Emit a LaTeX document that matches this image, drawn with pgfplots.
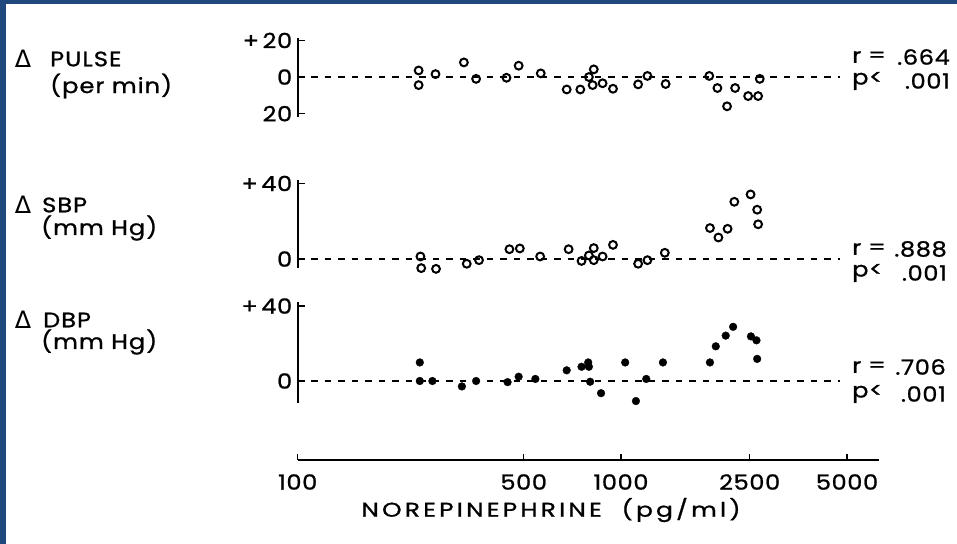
\documentclass[border=0pt]{standalone}
\usepackage{pgfplots}
\pgfplotsset{compat=1.18}
\usepackage{fontspec}
\setmainfont{Poppins}
\newfontfamily\symfont{DejaVu Sans}
\definecolor{frameblue}{RGB}{31,73,125}
\newcommand{\lblfont}{\fontsize{21}{24}\selectfont\addfontfeatures{FakeStretch=1.15,LetterSpace=5,FakeBold=1}}
\newcommand{\tkfont}{\fontsize{21}{24}\selectfont\addfontfeatures{FakeStretch=1.15,LetterSpace=3,FakeBold=1}}

\pgfplotsset{
  panel/.style={
    scale only axis, width=581.3bp,
    xmin=100, xmax=6281,
    axis x line=none, axis y line*=left,
    xtick=\empty, xminorticks=false, yminorticks=false,
    axis line style={-, line width=2.2bp},
    tick align=inside, major tick length=7bp,
    major tick style={line width=1.5bp, black},
    /pgf/number format/assume math mode=true,
    tick label style={font=\tkfont},
    yticklabel style={xshift=-2bp},
    anchor=south west, clip=false
  },
  zero/.style={black, line width=1.4bp, dash pattern=on 6.5bp off 7bp},
  openm/.style={only marks, mark=o, mark size=3.9bp, mark options={line width=2bp, black}},
  fillm/.style={only marks, mark=*, mark size=3.9bp, mark options={black, fill=black, line width=0.3bp}},
}

\begin{document}
\begin{tikzpicture}
\begin{scope}[x=1bp,y=1bp]
\fill[white] (0,0) rectangle (957,544);
\fill[frameblue] (0,0) rectangle (6,544);
\fill[frameblue] (0,540) rectangle (957,544);
\useasboundingbox (0,0) rectangle (957,544);
\end{scope}

% ---------- Delta PULSE ----------
\begin{semilogxaxis}[panel, at={(297.7bp,426.7bp)}, ymin=-22, ymax=21.3, height=79.2bp,
  ytick={-20,0,20}, yticklabels={20,0,{+\,20}}]
\addplot[zero] coordinates {(100,0) (4755,0)};
\addplot[openm] coordinates {
(236.6,3.6) (236.6,-4.4) (266.8,1.6) (326.6,8.0) (356.3,-1.0)
(442.4,-0.4) (482.4,6.2) (564.6,2.0) (679.2,-6.8) (748.5,-6.8)
(795.6,0) (823.6,4.2) (817.0,-4.4) (877.0,-3.4) (944.4,-6.4)
(1129.5,-4.0) (1207,0.6) (1374,-3.8) (1875,0.6) (1987,-6.0)
(2254,-6.0) (2128,-16.0) (2473,-10.4) (2655,-10.4) (2686,-1.0)
};
\end{semilogxaxis}

% ---------- Delta SBP ----------
\begin{semilogxaxis}[panel, at={(297.7bp,275.5bp)}, ymin=-5, ymax=42, height=88.8bp,
  ytick={0,40}, yticklabels={0,{+\,40}}]
\addplot[zero] coordinates {(100,0) (4755,0)};
\addplot[openm] coordinates {
(239.7,1.35) (241.0,-4.8) (267.8,-5.2) (333.3,-2.5) (363.8,-0.6)
(451.7,5.2) (486.4,5.6) (562.2,1.35) (688.6,5.2) (755.0,-1.0)
(795.6,1.9) (823.6,5.8) (823.6,-0.6) (877,1.35) (944.4,7.5)
(1129.5,-2.5) (1207,-0.6) (1366,3.3) (1884,16.4) (2001,11.4)
(2136,16.0) (2241,30.3) (2516,34.2) (2637,26.1) (2655,18.4)
};
\end{semilogxaxis}

% ---------- Delta DBP ----------
\begin{semilogxaxis}[panel, at={(297.7bp,140.5bp)}, ymin=-12, ymax=42.1, height=101.4bp,
  ytick={0,40}, yticklabels={0,{+\,40}}]
\addplot[zero] coordinates {(100,0) (4755,0)};
\addplot[fillm] coordinates {
(238.6,9.9) (238.6,0) (261.0,0) (322.0,-2.9) (356.3,0)
(445.8,-0.6) (482.4,2.3) (543.3,1.1) (679.2,5.7) (755.0,7.6)
(791.7,9.9) (795.6,7.6) (802.5,-0.4) (867.5,-6.5) (1030,9.9)
(1112,-10.7) (1197,1.1) (1348,9.9) (1884,9.9) (1964,18.5)
(2108,24.2) (2222,28.9) (2523,23.8) (2624,21.7) (2637,11.8)
};
\end{semilogxaxis}

% ---------- x axis ----------
\begin{semilogxaxis}[scale only axis, width=581.3bp, height=10bp,
  at={(297.7bp,84bp)}, anchor=south west,
  xmin=100, xmax=6281, ymin=0, ymax=1,
  axis x line*=bottom, axis y line=none,
  axis line style={-, line width=2bp},
  xtick={100,500,1000,2500,5000},
  xticklabels={100,500,1000,2500,5000},
  xminorticks=false,
  tick align=inside, major tick length=6bp,
  major tick style={line width=1.5bp, black},
  /pgf/number format/assume math mode=true,
  tick label style={font=\tkfont},
  xticklabel style={anchor=center, yshift=-22bp}]
\addplot[draw=none] coordinates {(100,0) (5000,0)};
\end{semilogxaxis}

\begin{scope}[x=1bp,y=1bp]
\node[font=\fontsize{20}{23}\selectfont\addfontfeatures{FakeStretch=1.25,LetterSpace=16,FakeBold=1}] at (551,34) {NOREPINEPHRINE\ \ (pg/ml)};

% ---------- left labels ----------
\begin{scope}[every node/.style={font=\lblfont, inner sep=0pt}]
\node[font=\symfont\fontsize{24}{26}\selectfont] at (23,485) {Δ};
\node[anchor=west] at (50,485) {PULSE};
\node[anchor=west] at (50,458) {(per min)};
\node[font=\symfont\fontsize{24}{26}\selectfont] at (23,339) {Δ};
\node[anchor=west] at (42,339) {SBP};
\node[anchor=west] at (41,316) {(mm Hg)};
\node[font=\symfont\fontsize{24}{26}\selectfont] at (23,224) {Δ};
\node[anchor=west] at (43,224) {DBP};
\node[anchor=west] at (41,202) {(mm Hg)};
\end{scope}

% ---------- right statistics ----------
\begin{scope}[every node/.style={font=\tkfont, inner sep=0pt}]
\node[anchor=west] at (852,487) {r};
\node at (877,487) {=};
\node[anchor=east] at (950,487) {.664};
\node[anchor=west] at (852,463) {p<};
\node[anchor=east] at (950,463) {.001};
\node[anchor=west] at (852,295) {r};
\node at (877,295) {=};
\node[anchor=east] at (947,295) {.888};
\node[anchor=west] at (852,271) {p<};
\node[anchor=east] at (947,271) {.001};
\node[anchor=west] at (852,177) {r};
\node at (877,177) {=};
\node[anchor=east] at (946,177) {.706};
\node[anchor=west] at (852,150) {p<};
\node[anchor=east] at (946,150) {.001};
\end{scope}
\end{scope}
\end{tikzpicture}
\end{document}
